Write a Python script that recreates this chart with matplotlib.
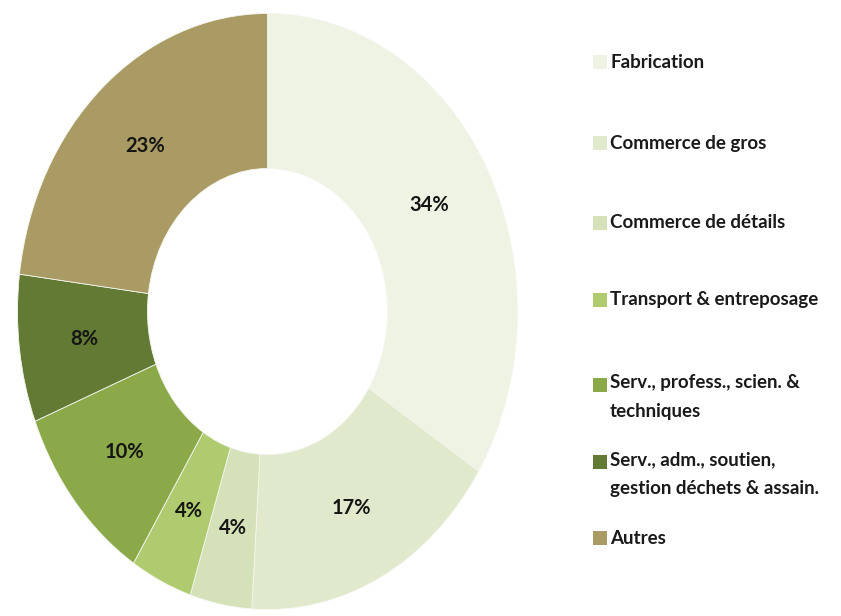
import matplotlib
matplotlib.use("Agg")
import matplotlib.pyplot as plt
from matplotlib.patches import Rectangle

plt.rcParams["font.family"] = ["Lato", "DejaVu Sans"]

# parts by sector (%), clockwise from the top
sectors = [
    "Fabrication",
    "Commerce de gros",
    "Commerce de détails",
    "Transport & entreposage",
    "Serv., profess., scien. &\ntechniques",
    "Serv., adm., soutien,\ngestion déchets & assain.",
    "Autres",
]
shares = [34, 17, 4, 4, 10, 8, 23]
colors = ["#eef3e4", "#e0e9cb", "#d5e1b8", "#b0cb6f", "#8ca94a", "#627a33", "#a99b63"]

fig = plt.figure(figsize=(8.41, 6.16), dpi=100)
W, H = 841, 616

# ring drawn slightly taller than wide
ax = fig.add_axes([17.5 / W, 1 - 609.5 / H, 500 / W, 596 / H])
wedges, _, autotexts = ax.pie(
    shares,
    colors=colors,
    startangle=90,
    counterclock=False,
    radius=1.0,
    autopct="%.0f%%",
    pctdistance=0.74,
    wedgeprops=dict(width=0.52, edgecolor="#f4f6ef", linewidth=0.6),
    textprops=dict(fontsize=14.5, fontweight="bold", color="#151515"),
)
ax.set_aspect("auto")
ax.set_xlim(-1, 1)
ax.set_ylim(-1, 1)
ax.axis("off")

# legend on the right, one entry per sector
rows = [62, 143, 223, 300, 385, 462, 538]
for label, col, y in zip(sectors, colors, rows):
    fig.add_artist(Rectangle((593 / W, 1 - (y + 7) / H), 14 / W, 14 / H,
                             transform=fig.transFigure, facecolor=col, edgecolor="none"))
    t = fig.text(610 / W, 1 - y / H, label, ha="left", va="top" if "\n" in label else "center",
                 fontsize=13.5, fontweight="bold", color="#1a1a1a", linespacing=1.85,
                 transform=fig.transFigure)
    # multi-line labels start from the first line's centre
    if "\n" in label:
        t.set_position((610 / W, 1 - (y - 11) / H))

fig.savefig("out.png", dpi=100, facecolor="white")
